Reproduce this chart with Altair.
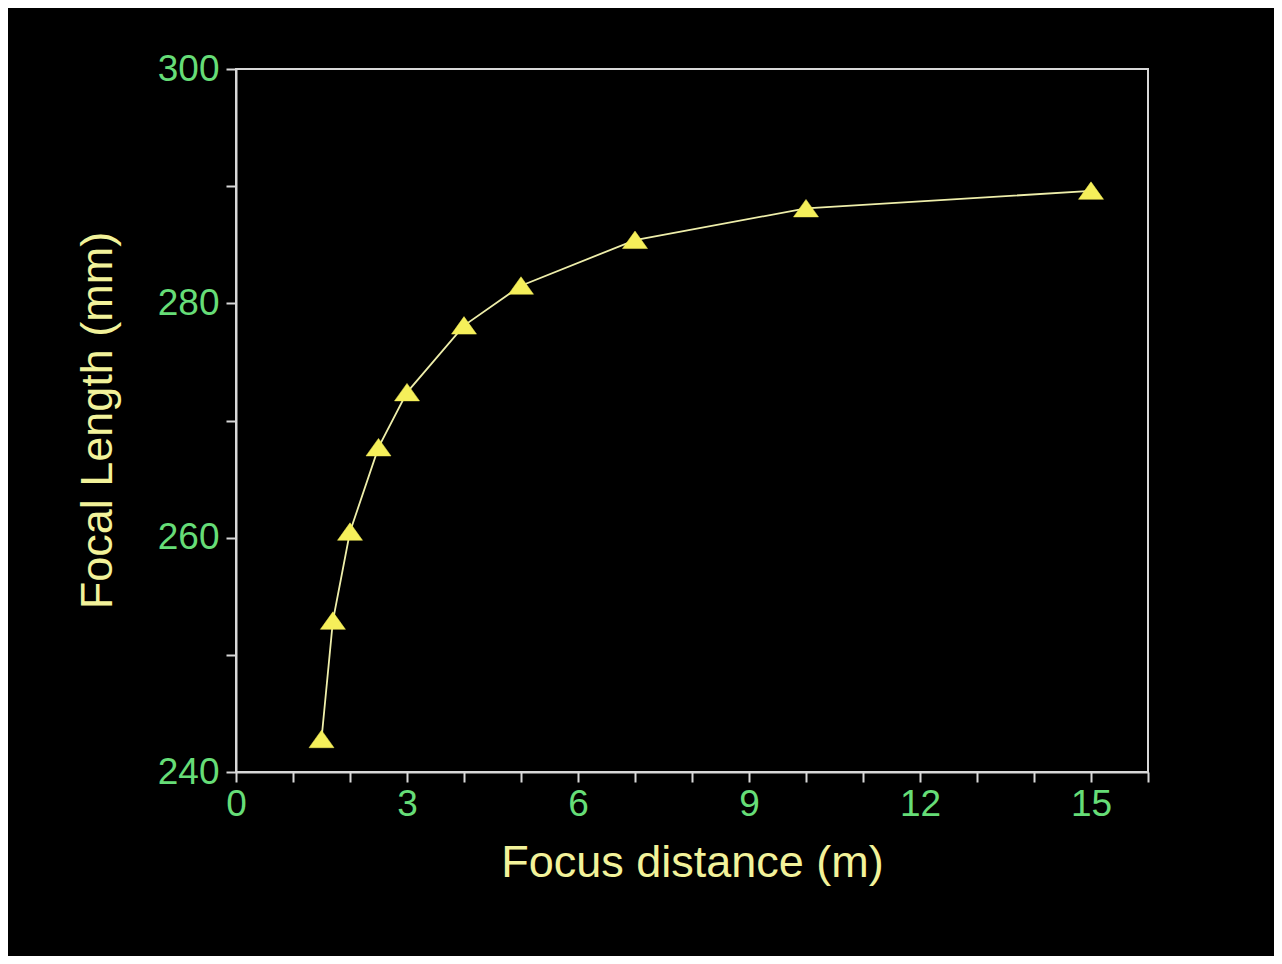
import altair as alt
import pandas as pd

focus_distance_m = [1.5, 1.7, 2.0, 2.5, 3.0, 4.0, 5.0, 7.0, 10.0, 15.0]
focal_length_mm = [242.8, 252.9, 260.5, 267.7, 272.4, 278.1, 281.5, 285.4, 288.1, 289.6]

x_ticks = list(range(0, 17))
y_ticks = [240, 250, 260, 270, 280, 290, 300]

df = pd.DataFrame({"d": focus_distance_m, "f": focal_length_mm})

FONT = "Liberation Sans"
AXIS_COL = "#d8d8d8"
LABEL_COL = "#66dd77"
TITLE_COL = "#f2f29a"

x_enc = alt.X(
    "d:Q",
    scale=alt.Scale(domain=[0, 16], nice=False, zero=False),
    axis=alt.Axis(
        title="Focus distance (m)",
        values=x_ticks,
        format="d",
        labelExpr="datum.value % 3 == 0 ? datum.label : ''",
        labelFontSize=37,
        labelPadding=4,
        labelFlush=False,
        titleFontSize=45,
        titleY=104,
        titleBaseline="alphabetic",
    ),
)
y_enc = alt.Y(
    "f:Q",
    scale=alt.Scale(domain=[240, 300], nice=False, zero=False),
    axis=alt.Axis(
        title="Focal Length (mm)",
        values=y_ticks,
        format="d",
        labelExpr="datum.value % 20 == 0 ? datum.label : ''",
        labelFontSize=37,
        labelPadding=7,
        labelFlush=False,
        labelBaseline="middle",
        titleFontSize=45,
        titleAngle=-90,
        titleAlign="center",
        titleBaseline="alphabetic",
        titleX=-125,
        titleY=351,
    ),
)

line = alt.Chart(df).mark_line(color="#eeeeaa", strokeWidth=1.8).encode(x=x_enc, y=y_enc)
pts = alt.Chart(df).mark_point(
    shape="M0,-0.72L-1,0.68L1,0.68Z",
    size=625,
    filled=True,
    fill="#f5ef5a",
    stroke="#f5ef5a",
    strokeWidth=0.5,
    opacity=1,
).encode(x="d:Q", y="f:Q")

chart = (
    alt.layer(line, pts)
    .properties(
        width=912,
        height=703,
        background="#000000",
        autosize=alt.AutoSizeParams(type="none"),
        padding={"left": 228, "top": 61, "right": 126, "bottom": 184},
    )
    .configure_view(stroke=AXIS_COL, strokeWidth=2)
    .configure_axis(
        grid=False,
        domainColor=AXIS_COL,
        domainWidth=2,
        tickColor=AXIS_COL,
        tickWidth=2,
        tickSize=10,
        labelColor=LABEL_COL,
        labelFont=FONT,
        titleColor=TITLE_COL,
        titleFont=FONT,
        titleFontWeight="normal",
        labelFontWeight="normal",
    )
)

chart.save("out.html", embed_options={"renderer": "svg", "actions": False})
